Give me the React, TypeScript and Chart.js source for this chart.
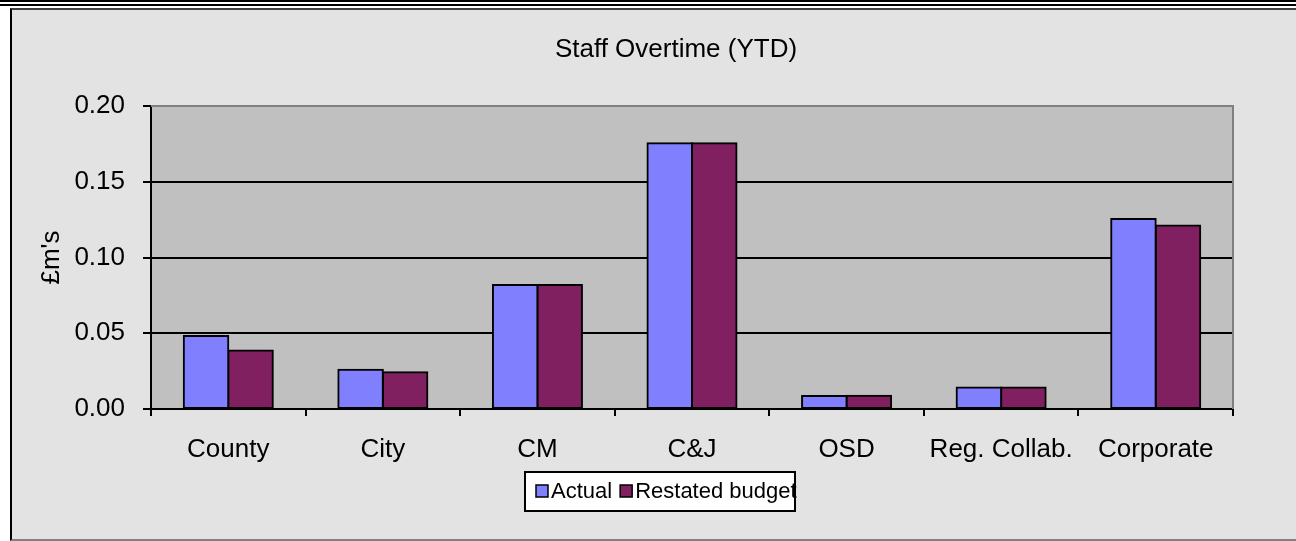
import React, { useEffect, useRef } from 'react';
import { Chart, registerables } from 'chart.js';

Chart.register(...registerables);

const categories = ['County', 'City', 'CM', 'C&J', 'OSD', 'Reg. Collab.', 'Corporate'];
const actual = [0.0482, 0.0259, 0.0818, 0.1754, 0.0085, 0.0142, 0.1254];
const restatedBudget = [0.0386, 0.0243, 0.0818, 0.1754, 0.0087, 0.0142, 0.1212];
const seriesLabels = ['Actual', 'Restated budget'];
const seriesColors = ['#8080ff', '#802060'];
const yMin = 0;
const yMax = 0.2;
const yStep = 0.05;
const chartTitle = 'Staff Overtime (YTD)';
const yAxisTitle = "£m's";

const FONT = "'Liberation Sans', Arial, sans-serif";

const plotBackground = {
  id: 'plotBackground',
  beforeDraw(chart: any) {
    const { ctx, chartArea } = chart;
    ctx.save();
    ctx.fillStyle = '#c0c0c0';
    ctx.fillRect(chartArea.left, chartArea.top, chartArea.right - chartArea.left, chartArea.bottom - chartArea.top);
    ctx.restore();
  },
  afterDraw(chart: any) {
    const { ctx, chartArea } = chart;
    ctx.save();
    ctx.strokeStyle = '#808080';
    ctx.lineWidth = 2;
    ctx.beginPath();
    ctx.moveTo(chartArea.left, chartArea.top);
    ctx.lineTo(chartArea.right, chartArea.top);
    ctx.lineTo(chartArea.right, chartArea.bottom);
    ctx.stroke();
    ctx.restore();
  },
};

const boxedLegend = {
  id: 'boxedLegend',
  afterDraw(chart: any) {
    const { ctx, chartArea } = chart;
    const left = chart.width / 2 - 151;
    const top = chartArea.bottom + 63;
    const w = 270;
    const h = 39;
    ctx.save();
    ctx.fillStyle = '#ffffff';
    ctx.fillRect(left, top, w, h);
    ctx.strokeStyle = '#000';
    ctx.lineWidth = 2;
    ctx.strokeRect(left, top, w, h);
    ctx.font = `22px ${FONT}`;
    ctx.textBaseline = 'middle';
    ctx.textAlign = 'left';
    const cy = top + 19;
    let x = left + 11;
    chart.data.datasets.forEach((ds: any) => {
      ctx.fillStyle = ds.backgroundColor;
      ctx.fillRect(x, cy - 6, 12, 12);
      ctx.strokeStyle = '#000';
      ctx.lineWidth = 1.5;
      ctx.strokeRect(x, cy - 6, 12, 12);
      ctx.fillStyle = '#000';
      ctx.fillText(ds.label, x + 15, cy + 1);
      x += 15 + ctx.measureText(ds.label).width + 8;
    });
    ctx.restore();
  },
};

export default function App() {
  const canvasRef = useRef<HTMLCanvasElement | null>(null);

  useEffect(() => {
    if (!canvasRef.current) return;
    const chart = new Chart(canvasRef.current, {
      type: 'bar',
      data: {
        labels: categories,
        datasets: [
          {
            label: seriesLabels[0],
            data: actual,
            backgroundColor: seriesColors[0],
            borderColor: '#000',
            borderWidth: 2,
            borderSkipped: false,
            inflateAmount: 1,
            categoryPercentage: 0.576,
            barPercentage: 1,
          },
          {
            label: seriesLabels[1],
            data: restatedBudget,
            backgroundColor: seriesColors[1],
            borderColor: '#000',
            borderWidth: 2,
            borderSkipped: false,
            inflateAmount: 1,
            categoryPercentage: 0.576,
            barPercentage: 1,
          },
        ],
      },
      options: {
        responsive: false,
        animation: false,
        devicePixelRatio: 1,
        layout: { padding: { left: 0, right: 0, top: 0, bottom: 70 } },
        plugins: {
          legend: { display: false },
          tooltip: { enabled: false },
          title: {
            display: true,
            text: chartTitle,
            color: '#000',
            font: { family: FONT, size: 26, weight: 'normal' },
            padding: { top: 24, bottom: 40.8 },
          },
        },
        scales: {
          x: {
            type: 'category',
            grid: {
              display: true,
              offset: true,
              drawOnChartArea: false,
              drawTicks: true,
              tickLength: 7,
              tickColor: '#000',
              tickWidth: 2,
              lineWidth: 2,
              color: '#000',
            },
            border: { display: true, color: '#000', width: 2 },
            ticks: {
              color: '#000',
              font: { family: FONT, size: 26 },
              padding: 18,
              maxRotation: 0,
              autoSkip: false,
            },
            afterFit(scale: any) {
              scale.height = 60;
            },
          },
          y: {
            min: yMin,
            max: yMax,
            grid: {
              color: (c: any) => (c.tick && Math.abs(c.tick.value - yMax) < 1e-9 ? '#808080' : '#000'),
              lineWidth: 2,
              drawTicks: true,
              tickLength: 8,
              tickColor: '#000',
              tickWidth: 2,
            },
            border: { display: true, color: '#000', width: 2 },
            ticks: {
              stepSize: yStep,
              color: '#000',
              font: { family: FONT, size: 26 },
              padding: 18,
              callback: (v: any) => Number(v).toFixed(2),
            },
            title: {
              display: true,
              text: yAxisTitle,
              color: '#000',
              font: { family: FONT, size: 26 },
              padding: { top: 24, bottom: 0 },
            },
            afterFit(scale: any) {
              scale.width = 139;
            },
          },
          spacer: {
            type: 'linear',
            position: 'right',
            display: true,
            grid: { display: false, drawTicks: false },
            border: { display: false },
            ticks: { display: false },
            afterFit(scale: any) {
              scale.width = 107;
            },
          },
        },
      },
      plugins: [plotBackground, boxedLegend],
    });
    return () => chart.destroy();
  }, []);

  return (
    <div style={{ position: 'fixed', left: 0, top: 0, width: 1296, height: 541, overflow: 'hidden', background: '#fff' }}>
      <div style={{ position: 'absolute', left: 0, top: 0, width: '100%', height: 2, background: '#000' }} />
      <div style={{ position: 'absolute', left: 0, top: 4, width: '100%', height: 2, background: '#000' }} />
      <div
        style={{
          position: 'absolute',
          left: 10,
          top: 8,
          width: 1332,
          height: 533,
          boxSizing: 'border-box',
          background: '#e3e3e3',
          borderLeft: '2px solid #000',
          borderTop: '2px solid #404040',
          borderBottom: '2px solid #808080',
        }}
      >
        <canvas ref={canvasRef} width={1328} height={529} style={{ position: 'absolute', left: 0, top: 0, display: 'block' }} />
      </div>
    </div>
  );
}
